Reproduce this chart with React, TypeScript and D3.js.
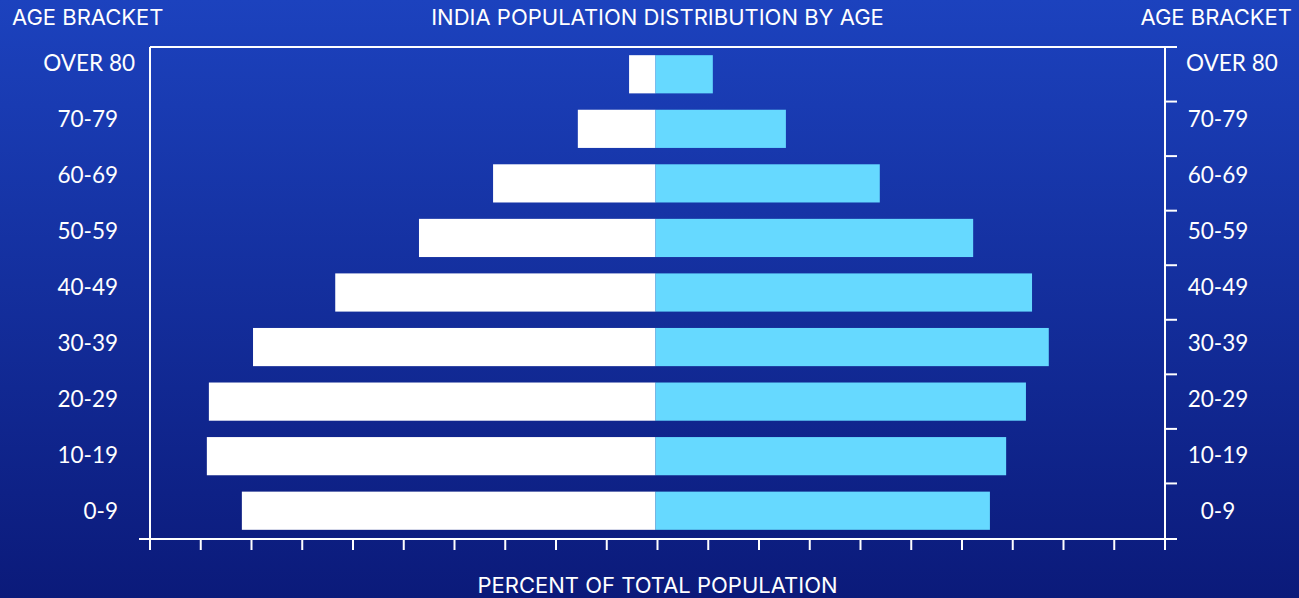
import React, { useEffect } from 'react';
import * as d3 from 'd3';

const ageBrackets = ['OVER 80', '70-79', '60-69', '50-59', '40-49', '30-39', '20-29', '10-19', '0-9'];
const leftValues = [0.56, 1.57, 3.24, 4.7, 6.35, 7.97, 8.84, 8.88, 8.19];
const rightValues = [1.09, 2.53, 4.38, 6.22, 7.38, 7.71, 7.26, 6.87, 6.55];
const xTickValues = d3.range(-10, 11, 1);

const title = 'INDIA POPULATION DISTRIBUTION BY AGE';
const yTitle = 'AGE BRACKET';
const xTitle = 'PERCENT OF TOTAL POPULATION';

const width = 1299;
const height = 598;

export default function App() {
  useEffect(() => {
    document.body.style.margin = '0';
  }, []);

  const xScale = d3.scaleLinear().domain([-10, 10]).range([150, 1165]);

  const yScale = d3
    .scaleBand()
    .domain(ageBrackets)
    .range([47, 538])
    .paddingInner(0.3)
    .paddingOuter(0.15);

  // labels sit on a slightly wider spacing than the bars
  const labelScale = d3.scalePoint().domain(ageBrackets).range([62, 510]);

  const halfGap = (yScale.step() * yScale.paddingInner()) / 2;
  const axisY = 539;
  const x0 = xScale(0) - 2;

  const labelFont = 'Lato, sans-serif';
  const titleFont = 'Inter, sans-serif';

  return (
    <svg width={width} height={height} style={{ display: 'block' }}>
      <defs>
        <linearGradient id="bg" x1="0" y1="0" x2="0" y2="1">
          <stop offset="0%" stopColor="#1c42be" />
          <stop offset="100%" stopColor="#0b1a7a" />
        </linearGradient>
      </defs>
      <rect x={0} y={0} width={width} height={height} fill="url(#bg)" />

      {/* bars */}
      {ageBrackets.map((d, i) => (
        <g key={d}>
          <rect
            x={xScale(-leftValues[i])}
            y={yScale(d)}
            width={x0 - xScale(-leftValues[i])}
            height={yScale.bandwidth()}
            fill="#ffffff"
          />
          <rect
            x={x0}
            y={yScale(d)}
            width={xScale(rightValues[i]) - x0}
            height={yScale.bandwidth()}
            fill="#66d9ff"
          />
        </g>
      ))}

      {/* frame */}
      <g stroke="#ffffff" strokeWidth={2} fill="none">
        <line x1={xScale(-10)} x2={xScale(10)} y1={47} y2={47} />
        <line x1={xScale(-10)} x2={xScale(-10)} y1={47} y2={axisY} />
        <line x1={xScale(10)} x2={xScale(10)} y1={47} y2={axisY} />
        <line x1={xScale(-10) - 11} x2={xScale(10) + 12} y1={axisY} y2={axisY} />
        {xTickValues.map((t) => (
          <line key={t} x1={xScale(t)} x2={xScale(t)} y1={axisY} y2={axisY + 11} />
        ))}
        {ageBrackets.map((d) => (
          <line
            key={d}
            x1={xScale(10)}
            x2={xScale(10) + 12}
            y1={(yScale(d) as number) - halfGap}
            y2={(yScale(d) as number) - halfGap}
          />
        ))}
      </g>

      {/* category labels */}
      <g fill="#ffffff" fontFamily={labelFont} fontSize={22.5}>
        {ageBrackets.map((d, i) => (
          <text
            key={'l' + d}
            x={i === 0 ? 135 : 118}
            y={labelScale(d)}
            textAnchor="end"
            dominantBaseline="central"
          >
            {d}
          </text>
        ))}
        {ageBrackets.map((d, i) => (
          <text
            key={'r' + d}
            x={i === 0 ? 1186 : 1218}
            y={labelScale(d)}
            textAnchor={i === 0 ? 'start' : 'middle'}
            dominantBaseline="central"
          >
            {d}
          </text>
        ))}
      </g>

      {/* titles */}
      <g fill="#ffffff" fontFamily={titleFont} fontSize={22}>
        <text x={12} y={25}>
          {yTitle}
        </text>
        <text x={1292} y={25} textAnchor="end">
          {yTitle}
        </text>
        <text x={xScale(0)} y={25} textAnchor="middle">
          {title}
        </text>
        <text x={xScale(0)} y={593} textAnchor="middle">
          {xTitle}
        </text>
      </g>
    </svg>
  );
}
